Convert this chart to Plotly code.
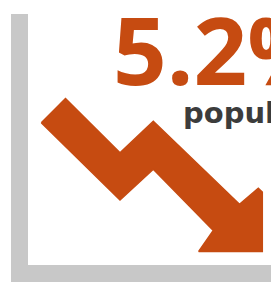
import plotly.graph_objects as go

# Icon geometry (pixel-like units, y grows downward)
axis_x = [11, 28, 28, 271, 271, 11, 11]
axis_y = [14, 14, 265, 265, 282, 282, 14]

arrow_x = [41.3, 65.5, 120, 153.3, 239.5, 258.3, 262.3, 262.3, 198.7, 213.3, 153.3, 120, 41.3]
arrow_y = [122.7, 98.5, 152.7, 121.3, 204.3, 188.3, 192, 251.5, 251.5, 230.5, 169.3, 200, 122.7]

value_label = "5.2%"
caption_label = "population"

ORANGE = "#C64B11"
GRAY = "#C8C8C8"
DARK = "#3C3C3C"

fig = go.Figure()
fig.add_trace(go.Scatter(x=axis_x, y=axis_y, fill="toself", fillcolor=GRAY,
                         line=dict(width=0, color=GRAY), mode="lines", hoverinfo="skip"))
fig.add_trace(go.Scatter(x=arrow_x, y=arrow_y, fill="toself", fillcolor=ORANGE,
                         line=dict(width=1.5, color=ORANGE), mode="lines", hoverinfo="skip"))

fig.add_annotation(x=111, y=49, xref="x", yref="y", text=f"<b>{value_label}</b>",
                   showarrow=False, xanchor="left", yanchor="middle",
                   font=dict(family="Open Sans", size=94, color=ORANGE))
fig.add_annotation(x=181, y=113, xref="x", yref="y", text=f"<b>{caption_label}</b>",
                   showarrow=False, xanchor="left", yanchor="middle",
                   font=dict(family="DejaVu Sans", size=29, color=DARK))

fig.update_xaxes(range=[0, 271], visible=False, fixedrange=True)
fig.update_yaxes(range=[282, 0], visible=False, fixedrange=True)
fig.update_layout(width=271, height=282, margin=dict(l=0, r=0, t=0, b=0),
                  paper_bgcolor="white", plot_bgcolor="white", showlegend=False)

fig.write_html("out.html", config={"displayModeBar": False},
               post_script="document.body.style.margin='0';document.body.style.overflow='hidden';")
